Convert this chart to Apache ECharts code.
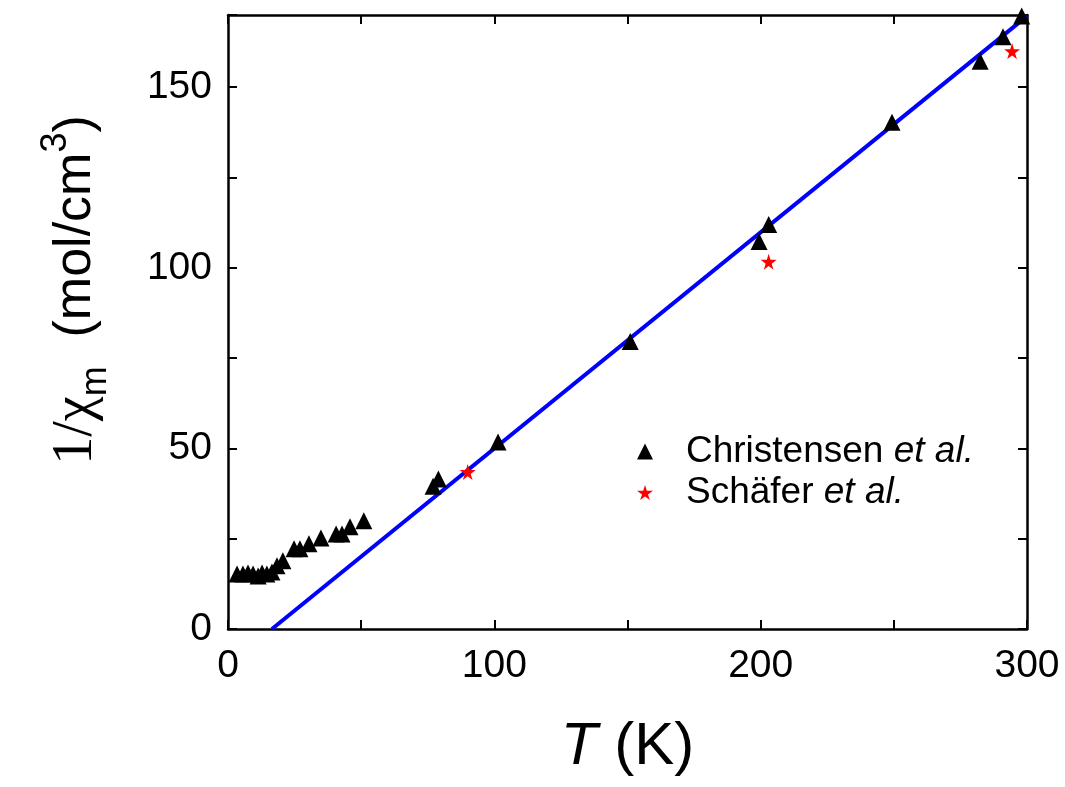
<!DOCTYPE html>
<html>
<head>
<meta charset="utf-8">
<script src="https://cdn.jsdelivr.net/npm/echarts@6/dist/echarts.min.js"></script>
<style>
  html, body { margin: 0; padding: 0; background: #fff; }
  #chart { width: 1065px; height: 787px; }
</style>
</head>
<body>
<div id="chart"></div>
<script>
// Inverse molar susceptibility vs temperature
const christensenT = [3.4, 5.6, 7.5, 9.4, 11.3, 12.8, 14.6, 16.5, 18.4, 20.6, 24.8, 27, 30.4, 34.9, 40.6, 42.8, 45.8, 51, 77, 79, 101.4, 151, 199.4, 203, 249.3, 282.4, 291, 298];
const christensenV = [15.2, 15.2, 15.5, 15.2, 14.7, 15.5, 15.2, 15.8, 17.5, 18.9, 22.2, 22.2, 23.6, 25.2, 26.3, 26.3, 28.3, 30, 39.5, 41.5, 51.8, 79.6, 107.3, 112, 140.3, 157.2, 164, 169.7];
const schaferT = [90, 203, 294.4];
const schaferV = [43.5, 101.7, 160];
// Curie-Weiss fit line endpoints
const fitT = [16.5, 300];
const fitV = [0, 169.7];
const xTickLabels = ['0', '100', '200', '300'];
const yTickLabels = ['0', '50', '100', '150'];

const FONT = '"Liberation Sans", Arial, sans-serif';
const STAR = 'path://M50,0 L61,35 L98,35 L68,57 L79,91 L50,70 L21,91 L32,57 L2,35 L39,35 Z';

const zip = (a, b) => a.map((v, i) => [v, b[i]]);

const chart = echarts.init(document.getElementById('chart'), null, { renderer: 'canvas' });

const axisCommon = {
  axisLine: { show: true, onZero: false, lineStyle: { color: '#000', width: 2.5 } },
  axisTick: { show: true, inside: true, length: 9, lineStyle: { color: '#000', width: 2 } },
  splitLine: { show: false }
};

chart.setOption({
  animation: false,
  backgroundColor: '#fff',
  grid: { left: 228, right: 38, top: 15, bottom: 158, containLabel: false },
  xAxis: [
    Object.assign({
      type: 'value', min: 0, max: 300, interval: 50, position: 'bottom',
      name: '{t|T }{k|(K)}', nameLocation: 'middle', nameGap: 88,
      nameTextStyle: {
        rich: {
          t: { fontFamily: FONT, fontSize: 60, fontStyle: 'italic', color: '#000' },
          k: { fontFamily: FONT, fontSize: 60, color: '#000' }
        }
      },
      axisLabel: {
        show: true, margin: 18, fontFamily: FONT, fontSize: 39, color: '#000',
        formatter: v => xTickLabels.includes(String(v)) ? String(v) : ''
      }
    }, axisCommon),
    Object.assign({
      type: 'value', min: 0, max: 300, interval: 50, position: 'top',
      axisLabel: { show: false }
    }, axisCommon)
  ],
  yAxis: [
    Object.assign({
      type: 'value', min: 0, max: 170, interval: 25, position: 'left',
      axisLabel: {
        show: true, margin: 16, fontFamily: FONT, fontSize: 39, color: '#000',
        formatter: v => yTickLabels.includes(String(v)) ? String(v) : ''
      }
    }, axisCommon),
    Object.assign({
      type: 'value', min: 0, max: 170, interval: 25, position: 'right',
      axisLabel: { show: false }
    }, axisCommon)
  ],
  legend: {
    orient: 'vertical', left: 632, top: 428,
    itemWidth: 16, itemHeight: 16, itemGap: 4,
    data: [
      { name: 'Christensen et al.', icon: 'triangle', itemStyle: { color: '#000', opacity: 1 } },
      { name: 'Schäfer et al.', icon: STAR, itemStyle: { color: '#ff0000', opacity: 1 } }
    ],
    formatter: name => {
      const base = name.replace(' et al.', '');
      return '{n|' + base + ' }{i|et al.}';
    },
    textStyle: {
      padding: [0, 0, 0, 28],
      rich: {
        n: { fontFamily: FONT, fontSize: 37, color: '#000', lineHeight: 40 },
        i: { fontFamily: FONT, fontSize: 37, fontStyle: 'italic', color: '#000', lineHeight: 40 }
      }
    }
  },
  graphic: [
    {
      type: 'text', x: 76, y: 290, rotation: Math.PI / 2,
      style: {
        text: '{a|1/χ}{s|m}{b|  (mol/cm}{p|3}{b|)}',
        align: 'center', verticalAlign: 'middle',
        rich: {
          a: { fontFamily: '"Liberation Serif", "Times New Roman", serif', fontSize: 56, fill: '#000', lineHeight: 76 },
          s: { fontFamily: FONT, fontSize: 36, fill: '#000', verticalAlign: 'bottom', lineHeight: 76 },
          b: { fontFamily: FONT, fontSize: 52, fill: '#000', lineHeight: 76 },
          p: { fontFamily: FONT, fontSize: 36, fill: '#000', verticalAlign: 'top', lineHeight: 76 }
        }
      }
    }
  ],
  series: [
    {
      name: 'fit', type: 'line', xAxisIndex: 0, yAxisIndex: 0,
      data: zip(fitT, fitV), symbol: 'none', silent: true,
      lineStyle: { color: '#0000ff', width: 4 }, z: 3
    },
    {
      name: 'Christensen et al.', type: 'scatter', xAxisIndex: 0, yAxisIndex: 0,
      data: zip(christensenT, christensenV), symbol: 'triangle', symbolSize: 17,
      itemStyle: { color: '#000', opacity: 1 }, z: 4
    },
    {
      name: 'Schäfer et al.', type: 'scatter', xAxisIndex: 0, yAxisIndex: 0,
      data: zip(schaferT, schaferV), symbol: STAR, symbolSize: 16,
      itemStyle: { color: '#ff0000', opacity: 1 }, z: 4
    }
  ]
});
</script>
</body>
</html>
